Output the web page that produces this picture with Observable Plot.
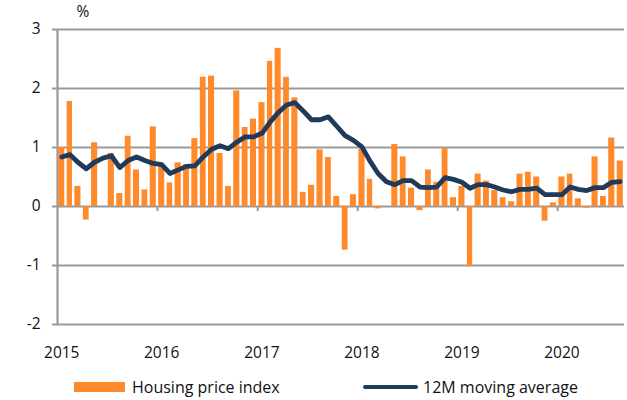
<!DOCTYPE html>
<html>
<head>
<meta charset="utf-8">
<script src="https://cdn.jsdelivr.net/npm/d3@7"></script>
<script src="https://cdn.jsdelivr.net/npm/@observablehq/plot@0.6"></script>
<style>
  html, body { margin: 0; padding: 0; background: #fff; }
  #wrap { position: relative; width: 627px; height: 400px; font-family: "Open Sans", sans-serif; }
  #chart { position: absolute; left: 0; top: 0; }
  .leg { position: absolute; top: 377px; height: 20px; line-height: 20px; font-size: 16px; color: #111; white-space: nowrap; }
  .sw-bar { position: absolute; top: 382px; left: 74px; width: 51px; height: 10px; background: #FF8A2B; }
  .sw-line { position: absolute; top: 384.5px; left: 363px; width: 55px; height: 4.5px; border-radius: 3px; background: #1F3A5A; }
</style>
</head>
<body>
<div id="wrap">
  <div id="chart"></div>
  <div class="sw-bar"></div>
  <div class="leg" style="left:132px">Housing price index</div>
  <div class="sw-line"></div>
  <div class="leg" style="left:423px">12M moving average</div>
</div>
<script>
// Monthly data, January 2015 – August 2020
const firstMonth = "2015-01";
const housingPriceIndex = [
  1.00, 1.78, 0.34, -0.23, 1.08, 0.00, 0.90, 0.22, 1.19, 0.62, 0.28, 1.35,
  0.70, 0.40, 0.74, 0.71, 1.15, 2.19, 2.21, 0.90, 0.34, 1.96, 1.34, 1.48,
  1.76, 2.46, 2.68, 2.19, 1.84, 0.24, 0.36, 0.96, 0.83, 0.17, -0.74, 0.20,
  0.97, 0.46, -0.04, 0.00, 1.05, 0.84, 0.31, -0.07, 0.62, 0.41, 0.98, 0.15,
  0.34, -1.02, 0.55, 0.43, 0.27, 0.15, 0.08, 0.55, 0.58, 0.50, -0.25, 0.06,
  0.50, 0.55, 0.13, -0.03, 0.84, 0.17, 1.16, 0.77
];
const movingAverage12M = [
  0.84, 0.88, 0.75, 0.64, 0.75, 0.82, 0.86, 0.66, 0.78, 0.84, 0.78, 0.73,
  0.71, 0.56, 0.62, 0.68, 0.69, 0.84, 0.97, 1.03, 0.98, 1.09, 1.18, 1.18,
  1.24, 1.43, 1.59, 1.72, 1.76, 1.62, 1.47, 1.47, 1.52, 1.36, 1.20, 1.12,
  1.01, 0.77, 0.56, 0.42, 0.37, 0.44, 0.44, 0.33, 0.32, 0.33, 0.49, 0.46,
  0.41, 0.31, 0.37, 0.37, 0.33, 0.28, 0.25, 0.29, 0.29, 0.31, 0.20, 0.20,
  0.20, 0.33, 0.29, 0.27, 0.32, 0.32, 0.41, 0.42
];
const yTicks = [-2, -1, 0, 1, 2, 3];
const yearLabels = [2015, 2016, 2017, 2018, 2019, 2020];

const start = d3.utcParse("%Y-%m")(firstMonth);
const rows = housingPriceIndex.map((v, i) => {
  const d0 = d3.utcMonth.offset(start, i);
  const d1 = d3.utcMonth.offset(start, i + 1);
  return {d0, d1, mid: new Date((+d0 + +d1) / 2), v, ma: movingAverage12M[i]};
});
const end = d3.utcMonth.offset(start, housingPriceIndex.length);
const yearStarts = yearLabels.map(y => new Date(Date.UTC(y, 0, 1)));
const labelPos = yearLabels.map(y => new Date((Date.UTC(y, 0, 1) + Date.UTC(y, 1, 1)) / 2));

const grid = "#9a9a9a";
const chart = Plot.plot({
  width: 627,
  height: 362,
  marginTop: 29,
  marginBottom: 38,
  marginLeft: 57,
  marginRight: 3,
  style: {fontFamily: "Open Sans, sans-serif", fontSize: "15.5px", color: "#111", background: "#fff"},
  x: {type: "utc", domain: [start, end]},
  y: {domain: [-2, 3]},
  marks: [
    Plot.ruleY(yTicks, {stroke: grid, strokeWidth: 2}),
    Plot.ruleX([start], {stroke: grid, strokeWidth: 2.2}),
    Plot.ruleX(yearStarts.slice(1), {x: d => d, y1: 0, y2: 0, insetBottom: -5, stroke: grid, strokeWidth: 2}),
    Plot.rectY(rows, {x1: "d0", x2: "d1", y: "v", fill: "#FF8A2B", insetLeft: 1.2, insetRight: 1.2}),
    Plot.line(rows, {x: "mid", y: "ma", stroke: "#1F3A5A", strokeWidth: 4.8, strokeLinejoin: "round", strokeLinecap: "round"}),
    Plot.axisY(yTicks, {tickSize: 5, tickPadding: 12, stroke: grid, strokeWidth: 2, fill: "#111", label: null, fontSize: 15.5, tickFormat: d => String(d)}),
    Plot.axisX(labelPos, {anchor: "bottom", tickSize: 0, tickPadding: 22, tickFormat: d3.utcFormat("%Y"), label: null, fontSize: 15.5, fill: "#111"}),
    Plot.text(["%"], {frameAnchor: "top-left", dx: 25.5, dy: -17, textAnchor: "middle", lineAnchor: "middle", fontSize: 15.5, fill: "#111"})
  ]
});
document.getElementById("chart").appendChild(chart);
</script>
</body>
</html>
